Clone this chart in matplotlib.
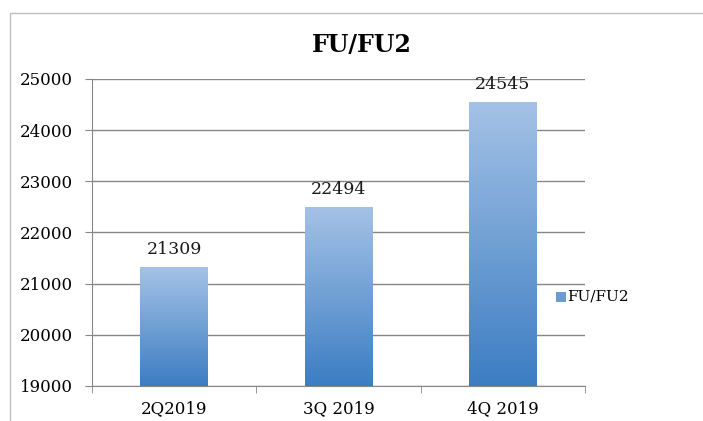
import matplotlib

matplotlib.use("Agg")
import matplotlib.pyplot as plt
import numpy as np
from matplotlib.patches import Rectangle

categories = ["2Q2019", "3Q 2019", "4Q 2019"]
values = [21309, 22494, 24545]
series_name = "FU/FU2"
y_ticks = [19000, 20000, 21000, 22000, 23000, 24000, 25000]

plt.rcParams["font.family"] = ["DejaVu Serif"]

fig = plt.figure(figsize=(7.03, 4.21), dpi=100)
ax = fig.add_axes([92 / 703, 35 / 421, 493 / 703, 307 / 421])

# outer chart frame
fig.patches.append(Rectangle((10 / 703, -0.05), 1.0, 1 - 13 / 421 + 0.05,
                             transform=fig.transFigure, fill=False,
                             edgecolor="#BFBFBF", linewidth=1.0))

x = np.arange(len(categories))
width = 0.41
ymin = y_ticks[0]

# vertical gradient light -> dark
grad = np.linspace(0, 1, 256).reshape(-1, 1)
cmap = matplotlib.colors.LinearSegmentedColormap.from_list(
    "bar", ["#3C7DC2", "#A4C2E6"])

for xi, v in zip(x, values):
    ax.imshow(grad, cmap=cmap, aspect="auto", origin="lower",
              extent=(xi - width / 2, xi + width / 2, ymin, v), zorder=3)
    ax.text(xi, v + 190, f"{v}", ha="center", va="bottom", fontsize=12.5,
            color="#1a1a1a", zorder=4)

ax.set_xlim(-0.5, len(categories) - 0.5)
ax.set_ylim(ymin, y_ticks[-1])
ax.set_yticks(y_ticks)
ax.set_yticklabels([str(t) for t in y_ticks], fontsize=12)
ax.set_xticks(x)
ax.set_xticklabels(categories, fontsize=12)
ax.set_xticks(np.arange(-0.5, len(categories)), minor=True)
ax.tick_params(axis="x", which="major", length=0, pad=10)
ax.tick_params(axis="x", which="minor", length=5, color="#868686")
ax.tick_params(axis="y", length=5, color="#868686", pad=9)

ax.grid(axis="y", color="#868686", linewidth=1.0, zorder=1)
ax.set_axisbelow(True)
for s in ["top", "right"]:
    ax.spines[s].set_visible(False)
for s in ["left", "bottom"]:
    ax.spines[s].set_color("#868686")

fig.text(362 / 703, 1 - 45 / 421, series_name, ha="center", va="center",
         fontsize=17, fontweight="bold")

# legend
fig.patches.append(Rectangle((556 / 703, 1 - 302 / 421), 10 / 703, 10 / 421,
                             transform=fig.transFigure, facecolor="#6A9BD3",
                             edgecolor="none"))
fig.text(567 / 703, 1 - 297 / 421, series_name, ha="left", va="center",
         fontsize=11)

fig.savefig("out.png", dpi=100)
